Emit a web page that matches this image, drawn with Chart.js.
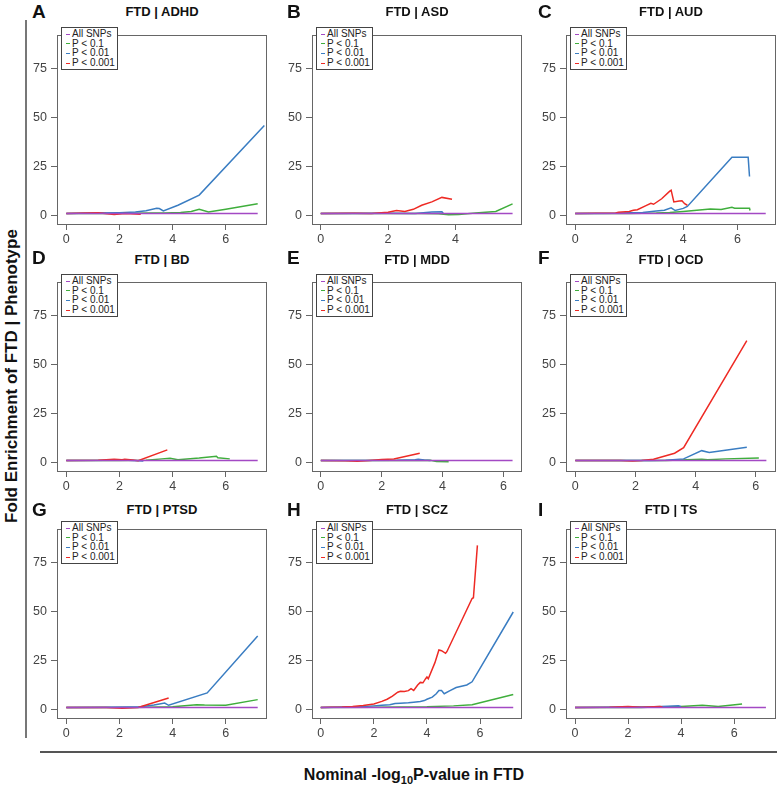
<!DOCTYPE html>
<html>
<head>
<meta charset="utf-8">
<script src="https://cdn.jsdelivr.net/npm/chart.js@4/dist/chart.umd.min.js"></script>
<style>
  body { margin: 0; background: #fff; font-family: "Liberation Sans", Arial, sans-serif; }
  #fig { position: relative; width: 777px; height: 787px; overflow: hidden; }
  canvas { position: absolute; }
  .title { position: absolute; font-weight: bold; font-size: 13px; color: #111; transform: translate(-50%, -50%); white-space: nowrap; }
  .letter { position: absolute; font-weight: bold; font-size: 19px; color: #111; line-height: 1; transform: translateY(-50%); }
  .legend { position: absolute; box-sizing: border-box; width: 57px; height: 43px; border: 1px solid #444; background: #fff;
            font-size: 10px; line-height: 9.6px; color: #222; padding-top: 1px; white-space: nowrap; }
  .mk { display: inline-block; width: 4px; height: 1px; margin: 0 2px 0 4px; vertical-align: middle; }
  .ytitle { position: absolute; left: 12px; top: 376px; font-weight: bold; font-size: 17px; color: #111;
            transform: translate(-50%, -50%) rotate(-90deg); white-space: nowrap; }
  .xtitle { position: absolute; left: 414px; top: 775px; font-weight: bold; font-size: 16px; color: #111;
            transform: translate(-50%, -50%); white-space: nowrap; }
  .xtitle sub { font-size: 11px; vertical-align: -4px; line-height: 0; }
  .vline { position: absolute; left: 25px; top: 20px; width: 2px; height: 718px; background: #777; }
  .hline { position: absolute; left: 40px; top: 751px; width: 737px; height: 2px; background: #555; }
</style>
</head>
<body>
<div id="fig">
  <div class="vline"></div>
  <div class="hline"></div>
  <div class="ytitle">Fold Enrichment of FTD | Phenotype</div>
  <div class="xtitle">Nominal -log<sub>10</sub>P-value in FTD</div>
</div>
<script>
// series legend + colours
const seriesNames = ["All SNPs", "P < 0.1", "P < 0.01", "P < 0.001"];
const seriesColors = ["#a349c4", "#3fae3c", "#3a7dc2", "#ee2a24"];

const panelLetters = ["A", "B", "C", "D", "E", "F", "G", "H", "I"];
const panelTitles = ["FTD | ADHD", "FTD | ASD", "FTD | AUD", "FTD | BD", "FTD | MDD", "FTD | OCD", "FTD | PTSD", "FTD | SCZ", "FTD | TS"];
const xTicks = [0, 2, 4, 6];
const yTicks = [0, 25, 50, 75];
const xRanges = [[-0.35, 7.55], [-0.26, 5.98], [-0.34, 7.43], [-0.35, 7.55], [-0.29, 6.61], [-0.31, 6.67], [-0.35, 7.55], [-0.33, 7.58], [-0.34, 7.58]];
const yRange = [-4.4, 92.5];

// each panel: [All SNPs, P<0.1, P<0.01, P<0.001] as [x, y] points
const adhd = [
  [[0, 1], [7.2, 1]],
  [[0, 1], [1.5, 1], [2.5, 1.1], [3.2, 1.2], [3.7, 1.2], [4.3, 1.5], [4.7, 2.0], [5.0, 3.1], [5.35, 1.7], [6.0, 3.2], [7.2, 5.9]],
  [[0, 1], [1, 1.2], [2, 1.4], [2.6, 1.7], [3.0, 2.4], [3.4, 3.6], [3.5, 3.5], [3.65, 2.3], [4.2, 5.2], [5.0, 10.4], [7.45, 46]],
  [[0, 1], [1.2, 1.3], [1.8, 0.5], [2.2, 1.0], [2.8, 0.6]]
];
const asd = [
  [[0, 1], [5.7, 1]],
  [[0, 1], [2, 1], [3.0, 1.0], [3.5, 0.8], [3.8, 0.3], [4.1, 0.4], [4.6, 1.2], [5.2, 2.0], [5.7, 5.9]],
  [[0, 1], [2, 1.1], [2.8, 1.0], [3.3, 1.7], [3.6, 1.8], [3.65, 0.8]],
  [[0, 1], [1, 1.1], [1.5, 1.0], [2.0, 1.6], [2.25, 2.5], [2.5, 2.0], [2.75, 3.1], [3.0, 5.2], [3.3, 6.9], [3.6, 9.2], [3.9, 8.2]]
];
const aud = [
  [[0, 1], [7.05, 1]],
  [[0, 1], [2, 1.0], [3, 1.2], [3.5, 1.5], [4, 2.0], [4.5, 2.6], [5.0, 3.3], [5.4, 3.0], [5.8, 4.1], [5.9, 3.7], [6.45, 3.6], [6.47, 2.5]],
  [[0, 1], [1.5, 1.1], [2.0, 1.3], [2.5, 1.5], [3.0, 2.3], [3.3, 2.6], [3.55, 3.9], [3.7, 2.5], [4.0, 3.6], [4.15, 4.6], [5.8, 29.7], [6.4, 29.7], [6.45, 19.9]],
  [[0, 1], [1.5, 1.2], [1.6, 1.6], [2.0, 2.0], [2.15, 2.6], [2.3, 2.9], [2.6, 4.9], [2.8, 6.2], [2.9, 5.7], [3.2, 8.5], [3.5, 12.4], [3.55, 12.9], [3.65, 6.9], [3.85, 7.4], [3.95, 7.5], [4.05, 6.0], [4.15, 5.2]]
];
const bd = [
  [[0, 1], [7.2, 1]],
  [[0, 1], [2, 1.0], [3.0, 1.1], [3.6, 1.8], [3.9, 2.1], [4.2, 1.4], [5.0, 2.2], [5.65, 3.1], [5.7, 2.4], [6.15, 1.8]],
  [[0, 1], [1.5, 1.1], [2.0, 1.3], [2.5, 1.0], [2.9, 0.7]],
  [[0, 1], [1.2, 1.1], [1.8, 1.6], [2.1, 1.3], [2.2, 1.6], [2.5, 1.2], [2.7, 0.9], [3.8, 6.4]]
];
const mdd = [
  [[0, 1], [6.3, 1]],
  [[0, 1], [3.0, 1.0], [3.6, 1.1], [3.8, 0.4], [4.2, 0.3]],
  [[0, 1], [2.5, 1.1], [3.1, 1.4], [3.2, 1.6], [3.4, 1.2], [3.6, 1.0]],
  [[0, 1], [0.8, 0.9], [1.2, 0.6], [1.6, 1.0], [2.0, 1.5], [2.4, 1.7], [3.25, 4.7]]
];
const ocd = [
  [[0, 1], [6.35, 1]],
  [[0, 1], [3, 1.0], [4.2, 1.6], [4.4, 1.4], [5.0, 1.8], [6.1, 2.3]],
  [[0, 1], [2.5, 1.0], [3.0, 1.1], [3.6, 1.8], [4.2, 6.0], [4.45, 5.1], [5.7, 7.7]],
  [[0, 1], [1.5, 1.0], [1.9, 0.7], [2.2, 1.0], [2.6, 1.6], [3.3, 4.7], [3.6, 7.5], [5.7, 62.3]]
];
const ptsd = [
  [[0, 1], [7.2, 1]],
  [[0, 1], [2.5, 1.0], [3.5, 1.2], [4.0, 1.4], [4.9, 2.4], [5.2, 2.2], [6.0, 2.1], [7.2, 5.0]],
  [[0, 1], [1.5, 1.1], [2.3, 1.2], [2.8, 1.4], [3.3, 2.2], [3.7, 3.2], [3.85, 2.1], [5.3, 8.4], [7.2, 37.5]],
  [[0, 1], [1.5, 1.0], [2.1, 0.6], [2.7, 1.0], [3.85, 5.8]]
];
const scz = [
  [[0, 1], [7.25, 1]],
  [[0, 1], [2, 1.1], [3, 1.2], [4.0, 1.3], [5.0, 1.8], [5.7, 2.4], [7.25, 7.6]],
  [[0, 1], [1.0, 1.2], [1.5, 1.4], [2.0, 1.8], [2.3, 2.1], [2.6, 2.4], [2.8, 3.0], [3.0, 3.2], [3.3, 3.4], [3.5, 3.7], [3.75, 4.0], [3.9, 4.5], [4.0, 5.2], [4.2, 6.3], [4.35, 8.0], [4.45, 9.6], [4.55, 9.6], [4.65, 8.0], [4.85, 9.5], [5.1, 11.2], [5.5, 12.5], [5.7, 14.1], [5.95, 19.8], [7.25, 49.8]],
  [[0, 1], [0.8, 1.2], [1.2, 1.5], [1.6, 2.0], [2.0, 2.8], [2.3, 4.1], [2.5, 5.2], [2.7, 6.8], [2.9, 8.8], [3.0, 9.3], [3.15, 9.1], [3.3, 9.6], [3.4, 10.6], [3.5, 9.7], [3.65, 12.5], [3.75, 13.8], [3.85, 13.6], [3.95, 15.7], [4.0, 16.6], [4.05, 15.7], [4.3, 23.9], [4.45, 30.4], [4.55, 30.0], [4.7, 28.7], [4.75, 29.5], [5.7, 56.7], [5.75, 57.1], [5.9, 83.9]]
];
const ts = [
  [[0, 1], [7.2, 1]],
  [[0, 1], [2.5, 1.0], [3.2, 1.3], [4.0, 1.5], [4.8, 2.1], [5.4, 1.5], [6.3, 2.8]],
  [[0, 1], [2, 1.2], [3.0, 1.3], [3.5, 1.6], [3.9, 1.9], [4.0, 1.5]],
  [[0, 1], [1.3, 1.1], [2.0, 1.5], [2.5, 1.1], [3.2, 1.5], [3.3, 1.2]]
];
const panelSeries = [adhd, asd, aud, bd, mdd, ocd, ptsd, scz, ts];

// layout of the 3x3 grid (plot boxes)
const colLeft = [57, 312, 566];
const rowTop = [26, 273, 520];
const boxW = 210, boxH = 198;
const titleY = [11, 259, 509];
const letterX = [32, 287, 538];
const letterY = [11, 257, 509];
const AXW = 44, AXH = 26, PAD = 3;

Chart.defaults.font.family = '"Liberation Sans", Arial, sans-serif';

const boxPlugin = {
  id: "box",
  afterDraw(chart) {
    const a = chart.chartArea, ctx = chart.ctx;
    ctx.save();
    ctx.strokeStyle = "#666";
    ctx.lineWidth = 1;
    ctx.strokeRect(Math.round(a.left) + 0.5, Math.round(a.top) + 0.5, Math.round(a.right - a.left) - 1, Math.round(a.bottom - a.top) - 1);
    ctx.restore();
  }
};

const fig = document.getElementById("fig");

panelSeries.forEach((series, i) => {
  const col = i % 3, row = Math.floor(i / 3);
  const bx = colLeft[col], by = rowTop[row];

  const canvas = document.createElement("canvas");
  canvas.width = AXW + boxW + PAD;
  canvas.height = PAD + boxH + AXH;
  canvas.style.left = (bx - AXW) + "px";
  canvas.style.top = (by - PAD) + "px";
  fig.appendChild(canvas);

  const datasets = series.map((pts, s) => ({
    label: seriesNames[s],
    data: pts.map(p => ({ x: p[0], y: p[1] })),
    borderColor: seriesColors[s],
    backgroundColor: seriesColors[s],
    borderWidth: 1.5,
    pointRadius: 0,
    tension: 0,
    order: s === 0 ? 0 : 4 - s
  }));

  new Chart(canvas, {
    type: "line",
    data: { datasets },
    options: {
      responsive: false,
      animation: false,
      events: [],
      layout: { padding: { top: PAD, right: PAD, left: 0, bottom: 0 } },
      plugins: { legend: { display: false }, tooltip: { enabled: false } },
      scales: {
        x: {
          type: "linear",
          min: xRanges[i][0],
          max: xRanges[i][1],
          afterBuildTicks: s => { s.ticks = xTicks.filter(v => v <= s.max).map(v => ({ value: v })); },
          afterFit: s => { s.height = AXH; },
          border: { display: false },
          grid: { drawOnChartArea: false, drawTicks: true, tickLength: 6, color: "#666" },
          ticks: { color: "#444", font: { size: 12.5 }, padding: 2, maxRotation: 0, autoSkip: false }
        },
        y: {
          min: yRange[0],
          max: yRange[1],
          afterBuildTicks: s => { s.ticks = yTicks.map(v => ({ value: v })); },
          afterFit: s => { s.width = AXW; },
          border: { display: false },
          grid: { drawOnChartArea: false, drawTicks: true, tickLength: 6, color: "#666" },
          ticks: { color: "#444", font: { size: 12.5 }, padding: 4, autoSkip: false }
        }
      }
    },
    plugins: [boxPlugin]
  });

  // legend box in the top-left corner of the plot
  const leg = document.createElement("div");
  leg.className = "legend";
  leg.style.left = (bx + 4) + "px";
  leg.style.top = (by + 1) + "px";
  leg.innerHTML = seriesNames.map((n, s) =>
    `<div><span class="mk" style="background:${seriesColors[s]}"></span>${n}</div>`).join("");
  fig.appendChild(leg);

  const t = document.createElement("div");
  t.className = "title";
  t.textContent = panelTitles[i];
  t.style.left = (bx + boxW / 2) + "px";
  t.style.top = titleY[row] + "px";
  fig.appendChild(t);

  const l = document.createElement("div");
  l.className = "letter";
  l.textContent = panelLetters[i];
  l.style.left = letterX[col] + "px";
  l.style.top = letterY[row] + "px";
  fig.appendChild(l);
});
</script>
</body>
</html>
